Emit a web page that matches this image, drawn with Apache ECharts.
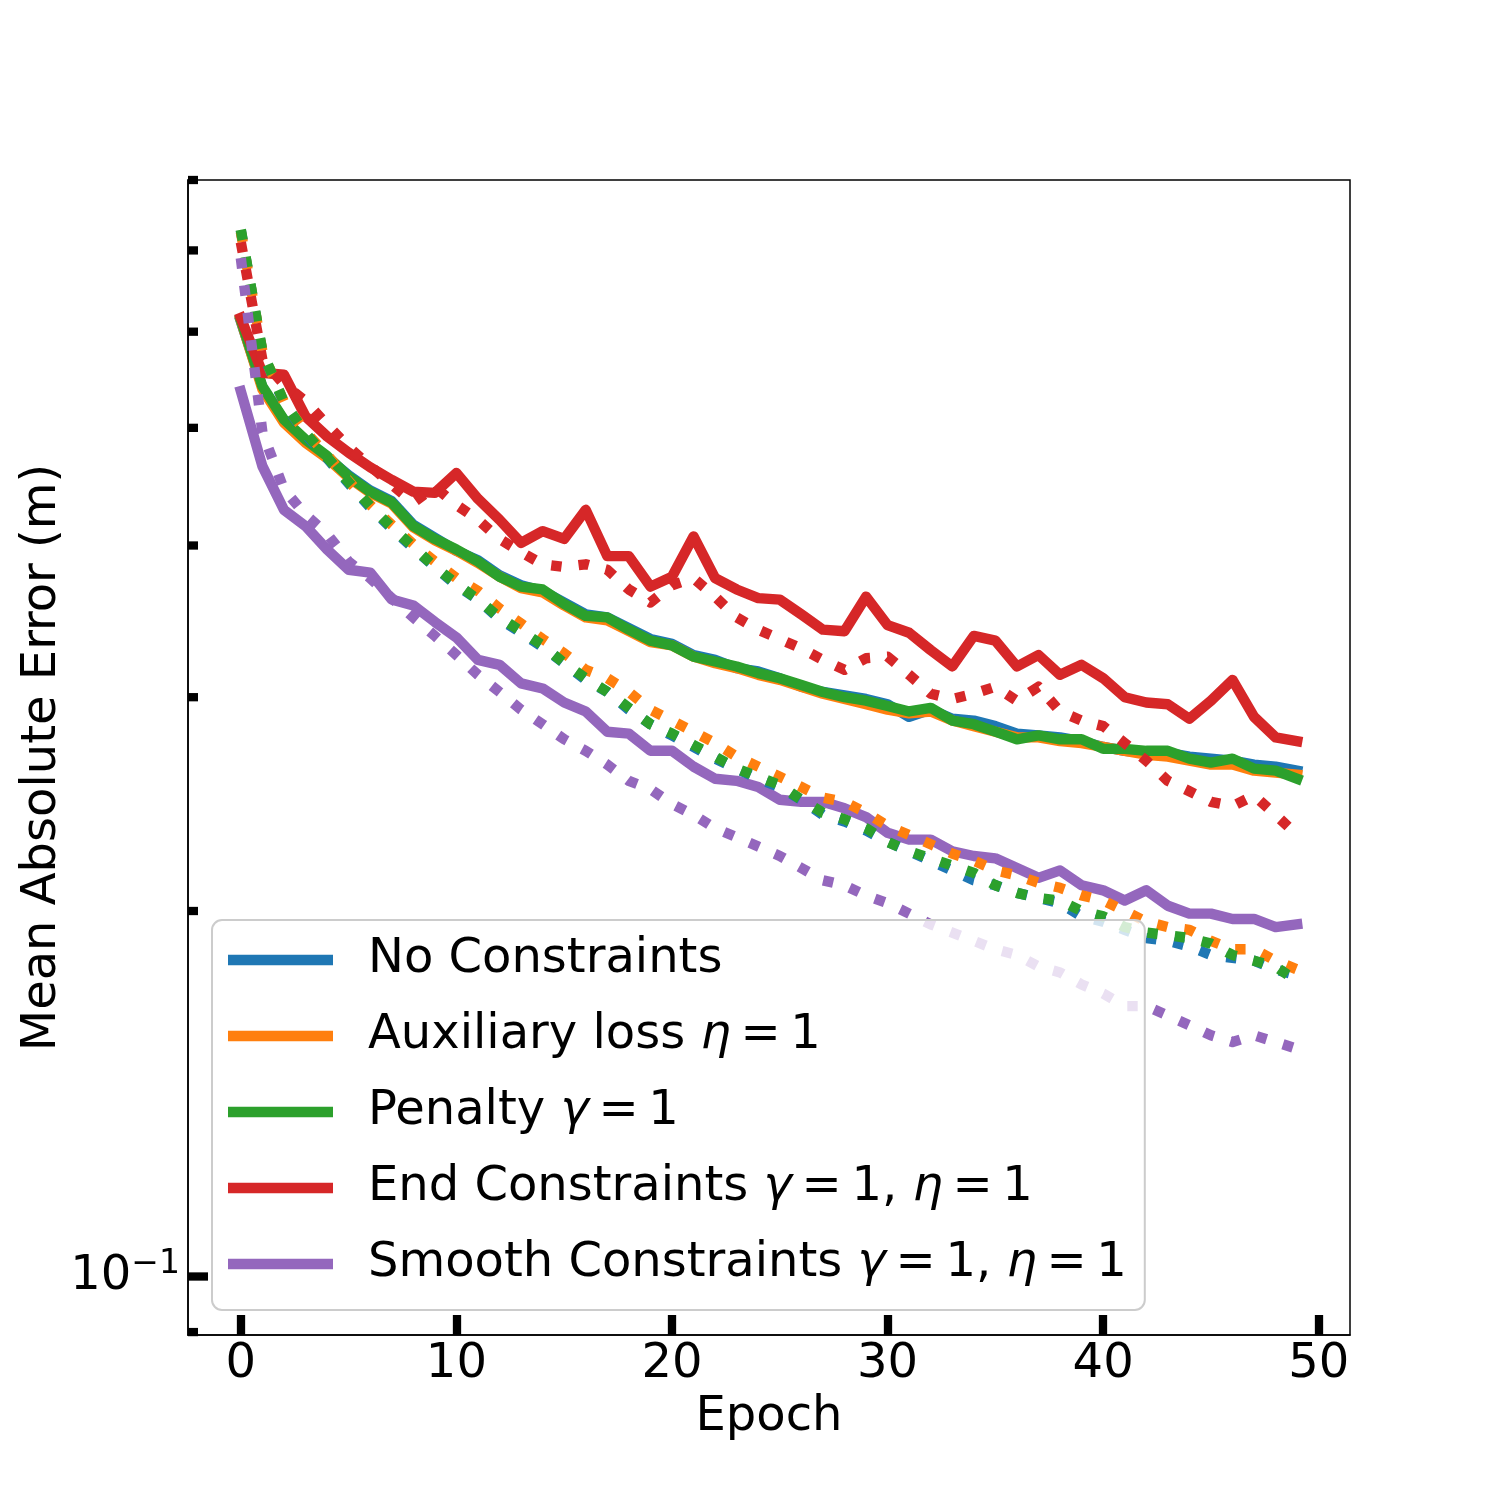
<!DOCTYPE html>
<html lang="en">
<head>
<meta charset="UTF-8">
<title>Mean Absolute Error per Epoch</title>
<script src="https://cdn.jsdelivr.net/npm/echarts@6/dist/echarts.min.js"></script>
<style>
  html, body { margin: 0; padding: 0; background: #fff; }
  #main { width: 1500px; height: 1500px; }
</style>
</head>
<body>
<div id="main"></div>
<script>
// epochs on the x axis
const epochs = [0, 1, 2, 3, 4, 5, 6, 7, 8, 9, 10, 11, 12, 13, 14, 15, 16, 17, 18, 19,
  20, 21, 22, 23, 24, 25, 26, 27, 28, 29, 30, 31, 32, 33, 34, 35, 36, 37, 38, 39,
  40, 41, 42, 43, 44, 45, 46, 47, 48, 49];

// solid lines (training)
const noConstrTrain = [0.612, 0.540, 0.507, 0.488, 0.473, 0.457, 0.444, 0.435, 0.416, 0.406,
  0.396, 0.389, 0.378, 0.371, 0.367, 0.359, 0.351, 0.349, 0.342, 0.335,
  0.332, 0.325, 0.322, 0.317, 0.315, 0.311, 0.306, 0.303, 0.301, 0.299,
  0.296, 0.289, 0.293, 0.288, 0.287, 0.284, 0.280, 0.279, 0.278, 0.276,
  0.273, 0.271, 0.270, 0.270, 0.268, 0.267, 0.266, 0.264, 0.263, 0.261];
const auxTrain = [0.613, 0.538, 0.505, 0.486, 0.472, 0.455, 0.442, 0.433, 0.414, 0.404,
  0.396, 0.387, 0.377, 0.369, 0.366, 0.357, 0.349, 0.347, 0.340, 0.333,
  0.331, 0.324, 0.320, 0.317, 0.313, 0.310, 0.306, 0.302, 0.299, 0.296,
  0.293, 0.291, 0.292, 0.287, 0.284, 0.281, 0.278, 0.278, 0.276, 0.275,
  0.273, 0.271, 0.269, 0.268, 0.266, 0.264, 0.264, 0.261, 0.260, 0.259];
const penaltyTrain = [0.614, 0.541, 0.508, 0.489, 0.474, 0.456, 0.443, 0.434, 0.415, 0.405,
  0.397, 0.388, 0.377, 0.370, 0.368, 0.358, 0.350, 0.349, 0.341, 0.334,
  0.331, 0.324, 0.321, 0.318, 0.314, 0.311, 0.307, 0.303, 0.300, 0.298,
  0.295, 0.292, 0.294, 0.287, 0.285, 0.281, 0.277, 0.279, 0.277, 0.277,
  0.272, 0.272, 0.271, 0.271, 0.267, 0.265, 0.267, 0.262, 0.261, 0.257];
const endTrain = [0.616, 0.555, 0.553, 0.511, 0.492, 0.477, 0.464, 0.453, 0.443, 0.442,
  0.459, 0.437, 0.420, 0.402, 0.411, 0.405, 0.428, 0.392, 0.392, 0.370,
  0.377, 0.407, 0.376, 0.368, 0.362, 0.361, 0.351, 0.341, 0.340, 0.363,
  0.344, 0.339, 0.328, 0.318, 0.337, 0.334, 0.318, 0.325, 0.313, 0.319,
  0.311, 0.300, 0.297, 0.296, 0.288, 0.298, 0.310, 0.289, 0.278, 0.276];
const smoothTrain = [0.536, 0.465, 0.428, 0.415, 0.397, 0.382, 0.380, 0.361, 0.357, 0.346,
  0.336, 0.322, 0.319, 0.308, 0.305, 0.297, 0.292, 0.281, 0.280, 0.271,
  0.271, 0.263, 0.257, 0.256, 0.253, 0.247, 0.246, 0.246, 0.243, 0.239,
  0.232, 0.229, 0.229, 0.224, 0.222, 0.221, 0.217, 0.213, 0.216, 0.210,
  0.208, 0.204, 0.208, 0.202, 0.199, 0.199, 0.197, 0.197, 0.194, 0.195];

// dotted lines (validation)
const noConstrVal = [0.727, 0.577, 0.524, 0.494, 0.472, 0.450, 0.430, 0.413, 0.398, 0.384,
  0.371, 0.361, 0.348, 0.339, 0.330, 0.320, 0.310, 0.303, 0.293, 0.285,
  0.279, 0.273, 0.267, 0.262, 0.257, 0.253, 0.247, 0.240, 0.237, 0.233,
  0.228, 0.224, 0.220, 0.216, 0.212, 0.210, 0.207, 0.205, 0.203, 0.198,
  0.196, 0.193, 0.190, 0.189, 0.187, 0.184, 0.183, 0.182, 0.179, 0.177];
const auxVal = [0.725, 0.578, 0.525, 0.496, 0.475, 0.452, 0.432, 0.416, 0.401, 0.388,
  0.376, 0.367, 0.355, 0.345, 0.335, 0.326, 0.316, 0.311, 0.303, 0.293,
  0.287, 0.281, 0.275, 0.268, 0.263, 0.258, 0.253, 0.248, 0.246, 0.241,
  0.235, 0.231, 0.227, 0.223, 0.220, 0.216, 0.214, 0.211, 0.209, 0.206,
  0.204, 0.200, 0.196, 0.194, 0.193, 0.189, 0.186, 0.186, 0.182, 0.179];
const penaltyVal = [0.728, 0.578, 0.525, 0.495, 0.473, 0.451, 0.431, 0.414, 0.399, 0.384,
  0.372, 0.361, 0.349, 0.340, 0.331, 0.320, 0.311, 0.303, 0.294, 0.285,
  0.280, 0.274, 0.268, 0.262, 0.258, 0.254, 0.247, 0.241, 0.238, 0.234,
  0.228, 0.224, 0.221, 0.218, 0.215, 0.210, 0.207, 0.205, 0.204, 0.200,
  0.198, 0.194, 0.192, 0.191, 0.190, 0.188, 0.184, 0.182, 0.180, 0.175];
const endVal = [0.711, 0.569, 0.543, 0.526, 0.503, 0.482, 0.465, 0.449, 0.434, 0.447,
  0.432, 0.420, 0.405, 0.395, 0.386, 0.384, 0.386, 0.382, 0.368, 0.359,
  0.371, 0.376, 0.363, 0.349, 0.341, 0.335, 0.329, 0.322, 0.316, 0.323,
  0.324, 0.313, 0.302, 0.299, 0.302, 0.306, 0.298, 0.306, 0.292, 0.287,
  0.284, 0.275, 0.266, 0.256, 0.251, 0.246, 0.244, 0.249, 0.240, 0.231];
const smoothVal = [0.690, 0.496, 0.445, 0.424, 0.409, 0.388, 0.376, 0.362, 0.349, 0.337,
  0.325, 0.313, 0.303, 0.293, 0.285, 0.277, 0.271, 0.264, 0.256, 0.252,
  0.245, 0.240, 0.234, 0.230, 0.226, 0.222, 0.217, 0.212, 0.210, 0.206,
  0.203, 0.199, 0.195, 0.192, 0.189, 0.186, 0.184, 0.180, 0.178, 0.174,
  0.171, 0.167, 0.167, 0.164, 0.161, 0.158, 0.156, 0.158, 0.156, 0.154];

// thin spaces around "=" as in math text
const names = ['No Constraints', 'Auxiliary loss \u03b7\u2009=\u20091', 'Penalty \u03b3\u2009=\u20091',
  'End Constraints \u03b3\u2009=\u20091, \u03b7\u2009=\u20091',
  'Smooth Constraints \u03b3\u2009=\u20091, \u03b7\u2009=\u20091'];
const legendRich = ['{sp| }{t|No Constraints}',
  '{sp| }{t|Auxiliary loss }{i|\u03b7}{t|\u2009=\u20091}',
  '{sp| }{t|Penalty }{i|\u03b3}{t|\u2009=\u20091}',
  '{sp| }{t|End Constraints }{i|\u03b3}{t|\u2009=\u20091, }{i|\u03b7}{t|\u2009=\u20091}',
  '{sp| }{t|Smooth Constraints }{i|\u03b3}{t|\u2009=\u20091, }{i|\u03b7}{t|\u2009=\u20091}'];
const colors = ['#1f77b4', '#ff7f0e', '#2ca02c', '#d62728', '#9467bd'];
const trainSets = [noConstrTrain, auxTrain, penaltyTrain, endTrain, smoothTrain];
const valSets = [noConstrVal, auxVal, penaltyVal, endVal, smoothVal];

const xTicks = [0, 10, 20, 30, 40, 50];
const yMajorTicks = [0.1];
const yMinorTicks = [0.09, 0.2, 0.3, 0.4, 0.5, 0.6, 0.7, 0.8];

const FONT = 'DejaVu Sans';
const X_MIN = -2.45, X_MAX = 51.45;
const Y_MIN = 0.0895, Y_MAX = 0.8;
const LW = 10.4;
const TICK_W = 8.3;

var myChart = echarts.init(document.getElementById('main'));

function makeLine(name, color, vals, dotted) {
  return {
    name: name,
    type: 'line',
    data: epochs.map(function (e, i) { return [e, vals[i]]; }),
    showSymbol: false,
    symbol: 'none',
    smooth: false,
    color: color,
    itemStyle: { color: color },
    lineStyle: {
      color: color,
      width: LW,
      type: dotted ? [LW, LW * 1.65] : 'solid',
      cap: dotted ? 'butt' : 'square',
      join: 'round'
    },
    emphasis: { disabled: true }
  };
}

let series = [];
for (let i = 0; i < names.length; i++) {
  series.push(makeLine(names[i], colors[i], trainSets[i], false));
}
for (let i = 0; i < names.length; i++) {
  series.push(makeLine(names[i] + ' (val)', colors[i], valSets[i], true));
}

option = {
  backgroundColor: '#fff',
  animation: false,
  textStyle: { fontFamily: FONT },
  grid: {
    left: 188, top: 180, right: 150, bottom: 165,
    show: true, borderColor: '#000', borderWidth: 1.5, backgroundColor: 'transparent'
  },
  xAxis: {
    type: 'value',
    min: X_MIN,
    max: X_MAX,
    name: 'Epoch',
    nameLocation: 'middle',
    nameGap: 52,
    nameTextStyle: { fontFamily: FONT, fontSize: 48, color: '#000' },
    axisLine: { show: true, onZero: false, lineStyle: { color: '#000', width: 1.5 } },
    axisTick: { show: true, inside: true, length: 20, customValues: xTicks,
      lineStyle: { color: '#000', width: TICK_W } },
    axisLabel: { show: true, customValues: xTicks, margin: 6,
      fontFamily: FONT, fontSize: 48, color: '#000' },
    splitLine: { show: false }
  },
  yAxis: {
    type: 'log',
    logBase: 10,
    min: Y_MIN,
    max: Y_MAX,
    name: 'Mean Absolute Error (m)',
    nameLocation: 'middle',
    nameGap: 121,
    nameMoveOverlap: false,
    nameTextStyle: { fontFamily: FONT, fontSize: 48, color: '#000' },
    axisLine: { show: true, onZero: false, lineStyle: { color: '#000', width: 1.5 } },
    axisTick: { show: false },
    splitLine: { show: false },
    axisLabel: {
      show: true,
      margin: 8,
      showMinLabel: false,
      showMaxLabel: false,
      formatter: function (v) {
        return Math.abs(Math.log10(v) + 1) < 1e-4 ? '{b|10}{s|\u22121}' : '';
      },
      rich: {
        b: { fontFamily: FONT, fontSize: 48, color: '#000' },
        s: { fontFamily: FONT, fontSize: 33, color: '#000', padding: [0, 0, 24, 0] }
      }
    }
  },
  legend: {
    data: names,
    orient: 'vertical',
    left: 212,
    top: 920,
    icon: 'rect',
    itemWidth: 105,
    itemHeight: LW,
    itemGap: 20,
    padding: [12, 18, 18, 16],
    backgroundColor: 'rgba(255,255,255,0.8)',
    borderColor: '#cccccc',
    borderWidth: 2,
    borderRadius: 10,
    selectedMode: false,
    formatter: function (name) {
      return legendRich[names.indexOf(name)];
    },
    textStyle: {
      fontFamily: FONT, fontSize: 48, color: '#000', lineHeight: 56,
      rich: {
        sp: { width: 30, fontSize: 48, lineHeight: 56 },
        t: { fontFamily: FONT, fontSize: 48, color: '#000', lineHeight: 56 },
        i: { fontFamily: FONT, fontSize: 48, color: '#000', fontStyle: 'italic', lineHeight: 56 }
      }
    }
  },
  series: series
};

myChart.setOption(option);

// log axis ticks drawn inward from the left spine
const xLeft = myChart.convertToPixel({ xAxisIndex: 0 }, X_MIN);
let tickMarks = [];
yMinorTicks.forEach(function (v) {
  const y = myChart.convertToPixel({ yAxisIndex: 0 }, v);
  tickMarks.push({ type: 'rect', z: 10, shape: { x: xLeft, y: y - TICK_W / 2, width: 10, height: TICK_W },
    style: { fill: '#000' } });
});
yMajorTicks.forEach(function (v) {
  const y = myChart.convertToPixel({ yAxisIndex: 0 }, v);
  tickMarks.push({ type: 'rect', z: 10, shape: { x: xLeft, y: y - TICK_W / 2, width: 20, height: TICK_W },
    style: { fill: '#000' } });
});
myChart.setOption({ graphic: tickMarks });
</script>
</body>
</html>
